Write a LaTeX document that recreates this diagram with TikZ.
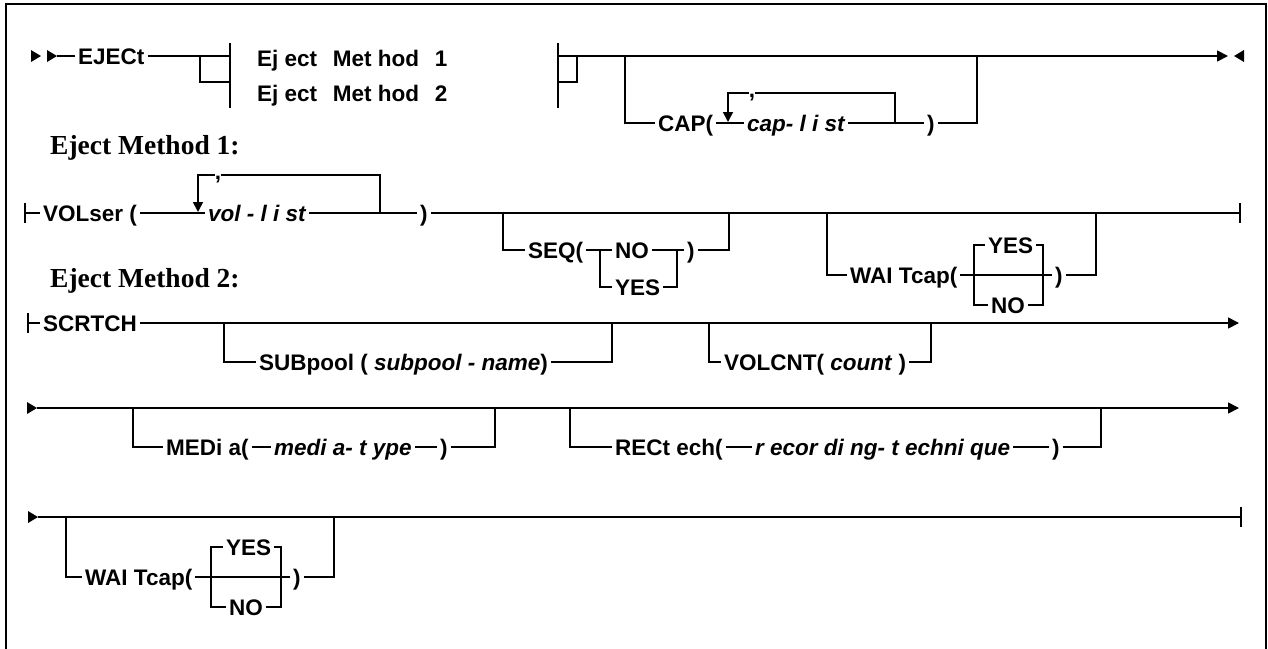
\documentclass[tikz,border=0pt]{standalone}
\usepackage{fontspec}
\setmainfont{Liberation Serif}
\setsansfont{Liberation Sans}
\usetikzlibrary{arrows.meta}

% filled marker triangles on the rails
\newcommand{\rrtipright}[1]{\fill #1 +(-5,-6) -- +(5,0) -- +(-5,6) -- cycle;}
\newcommand{\rrtipleft}[1]{\fill #1 +(5,-6) -- +(-5,0) -- +(5,6) -- cycle;}

\begin{document}
\begin{tikzpicture}[
  x=1pt, y=-1pt,
  rail/.style={line width=1.7pt, line join=miter},
  endtip/.style={-{Triangle[length=11pt,width=11pt]}},
  looptip/.style={-{Triangle[length=10pt,width=10pt]}},
  kw/.style={font=\sffamily\bfseries\fontsize{22.5}{22.5}\selectfont, inner ysep=0pt,
    inner xsep=3pt, text height=16pt, text depth=0pt, anchor=west},
  var/.style={kw, font=\sffamily\bfseries\itshape\fontsize{22.5}{22.5}\selectfont},
  comma/.style={kw, anchor=center, inner sep=0pt, text height=9pt},
  head/.style={font=\rmfamily\bfseries\fontsize{27.5}{27.5}\selectfont,
    inner sep=0pt, anchor=west}
]
\useasboundingbox (0,0) rectangle (1268,648);
\draw[line width=2pt] (6,4) rectangle (1266,652);

% Main statement
\rrtipright{(36,56)}
\rrtipright{(52,56)}
\coordinate (start) at (57,56);
\node[kw] (eject) at (75,56) {EJECt};
\draw[rail] (start) -- (eject.west);
\draw[rail] (eject.east) -- (230,56);
\draw[rail] (200,56) |- (230,82);
\draw[rail] (230,43) -- (230,108);
\node[kw] (meth1) at (254,58) {Ej ect\hspace{0.7em}Met hod\hspace{0.7em}1};
\node[kw] (meth2) at (254,93) {Ej ect\hspace{0.7em}Met hod\hspace{0.7em}2};
\draw[rail] (558,43) -- (558,108);
\draw[rail] (577,56) |- (558,82);
\draw[rail, endtip] (558,56) -- (1228,56);
\rrtipleft{(1239,56)}

% CAP option with repeat loop
\node[kw] (cap) at (655,123) {CAP(};
\draw[rail] (625,56) |- (cap.west);
\node[var] (caplist) at (744,123) {cap- l i st};
\draw[rail] (cap.east) -- (caplist.west);
\node[kw] (capclose) at (924,123) {)};
\draw[rail] (caplist.east) -- (capclose.west);
\draw[rail] (capclose.east) -| (977,56);
\coordinate (capret) at (895,123);
\node[comma] (capcomma) at (752,93) {,};
\draw[rail] (capret) |- (capcomma.east);
\draw[rail, looptip] (capcomma.west) -| (728,122);

% Eject Method 1
\node[head] (head1) at (50,148) {Eject Method 1:};
\draw[rail] (25,203) -- (25,223);
\node[kw] (volser) at (40,213) {VOLser (};
\draw[rail] (25,213) -- (volser.west);
\node[var] (vollist) at (205,213) {vol - l i st};
\draw[rail] (volser.east) -- (vollist.west);
\node[kw] (volclose) at (417,213) {)};
\draw[rail] (vollist.east) -- (volclose.west);
\draw[rail] (volclose.east) -- (1240,213);
\draw[rail] (1240,203) -- (1240,223);
\coordinate (volret) at (380,213);
\node[comma] (volcomma) at (218,175) {,};
\draw[rail] (volret) |- (volcomma.east);
\draw[rail, looptip] (volcomma.west) -| (198,212);

% SEQ
\node[kw] (seq) at (525,250) {SEQ(};
\draw[rail] (503,213) |- (seq.west);
\node[kw] (seqno) at (612,250) {NO};
\node[kw] (seqyes) at (612,287) {YES};
\node[kw] (seqclose) at (684,250) {)};
\draw[rail] (seq.east) -- (seqno.west);
\draw[rail] (seqno.east) -- (seqclose.west);
\draw[rail] (600,250) |- (seqyes.west);
\draw[rail] (seqyes.east) -| (677,250);
\draw[rail] (seqclose.east) -| (729,213);

% WAITcap
\node[kw] (wait) at (847,275) {WAI Tcap(};
\draw[rail] (827,213) |- (wait.west);
\node[kw] (waityes) at (985,245) {YES};
\node[kw] (waitno) at (988,305) {NO};
\node[kw] (waitclose) at (1052,275) {)};
\draw[rail] (wait.east) -- (waitclose.west);
\draw[rail] (waityes.west) -| (974,305) -- (waitno.west);
\draw[rail] (waityes.east) -| (1043,305) -- (waitno.east);
\draw[rail] (waitclose.east) -| (1096,213);

% Eject Method 2
\node[head] (head2) at (50,281) {Eject Method 2:};
\draw[rail] (28,313) -- (28,333);
\node[kw] (scrtch) at (40,323) {SCRTCH};
\draw[rail] (28,323) -- (scrtch.west);
\draw[rail, endtip] (scrtch.east) -- (1239,323);
\node[kw] (sub) at (256,362) {SUBpool ( \textit{subpool - name})};
\draw[rail] (224,323) |- (sub.west);
\draw[rail] (sub.east) -| (612,323);
\node[kw] (volcnt) at (721,362) {VOLCNT( \textit{count} )};
\draw[rail] (709,323) |- (volcnt.west);
\draw[rail] (volcnt.east) -| (931,323);

% continuation: MEDia, RECtech
\rrtipright{(32,408)}
\coordinate (cont1) at (37,408);
\draw[rail, endtip] (cont1) -- (1239,408);
\node[kw] (media) at (163,447) {MEDi a(};
\draw[rail] (133,408) |- (media.west);
\node[var] (mediatype) at (271,447) {medi a- t ype};
\draw[rail] (media.east) -- (mediatype.west);
\node[kw] (mediaclose) at (437,447) {)};
\draw[rail] (mediatype.east) -- (mediaclose.west);
\draw[rail] (mediaclose.east) -| (495,408);
\node[kw] (rect) at (612,447) {RECt ech(};
\draw[rail] (570,408) |- (rect.west);
\node[var] (rectech) at (752,447) {r ecor di ng- t echni que};
\draw[rail] (rect.east) -- (rectech.west);
\node[kw] (rectclose) at (1049,447) {)};
\draw[rail] (rectech.east) -- (rectclose.west);
\draw[rail] (rectclose.east) -| (1101,408);

% continuation: WAITcap
\rrtipright{(33,517)}
\coordinate (cont2) at (38,517);
\draw[rail] (cont2) -- (1241,517);
\draw[rail] (1241,507) -- (1241,527);
\node[kw] (wait2) at (82,577) {WAI Tcap(};
\draw[rail] (66,517) |- (wait2.west);
\node[kw] (wait2yes) at (223,547) {YES};
\node[kw] (wait2no) at (226,607) {NO};
\node[kw] (wait2close) at (290,577) {)};
\draw[rail] (wait2.east) -- (wait2close.west);
\draw[rail] (wait2yes.west) -| (211,607) -- (wait2no.west);
\draw[rail] (wait2yes.east) -| (281,607) -- (wait2no.east);
\draw[rail] (wait2close.east) -| (334,517);
\end{tikzpicture}
\end{document}
